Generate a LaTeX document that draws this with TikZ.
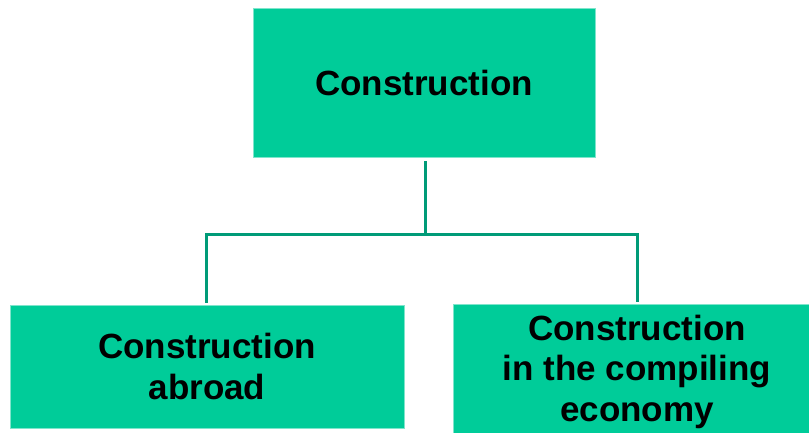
\documentclass[tikz,border=0pt]{standalone}
\usepackage{fontspec}
\setmainfont{Liberation Sans}
\begin{document}
\begin{tikzpicture}[x=1pt,y=-1pt,
  box/.style={rectangle, fill=boxfill, draw=boxedge, line width=0.8pt, inner sep=0pt,
    align=center, font=\fontsize{35}{40.5}\selectfont\bfseries, text=black},
  conn/.style={draw=connc, line width=3pt}]
\definecolor{boxfill}{HTML}{00CC99}
\definecolor{boxedge}{HTML}{7FE5CC}
\definecolor{connc}{HTML}{009B78}
\useasboundingbox (0,0) rectangle (809,432);
\clip (0,0) rectangle (809,432);
\node[box, minimum width=342pt, minimum height=149pt] (top) at (424,82.5) {Construction};
\node[box, minimum width=394pt, minimum height=123pt] (left) at (207,366.5) {Construction\\abroad};
\node[box, minimum width=368pt, minimum height=135pt] (right) at (637,371.5) {Construction\\in the compiling\\economy};
\coordinate (j) at (425,234);
\draw[conn] ([yshift=-4pt]top.south -| j) -- (j);
\draw[conn] ([yshift=2pt]left.north -| 206,0) |- (j) -| ([yshift=2pt]right.north);
\end{tikzpicture}
\end{document}
